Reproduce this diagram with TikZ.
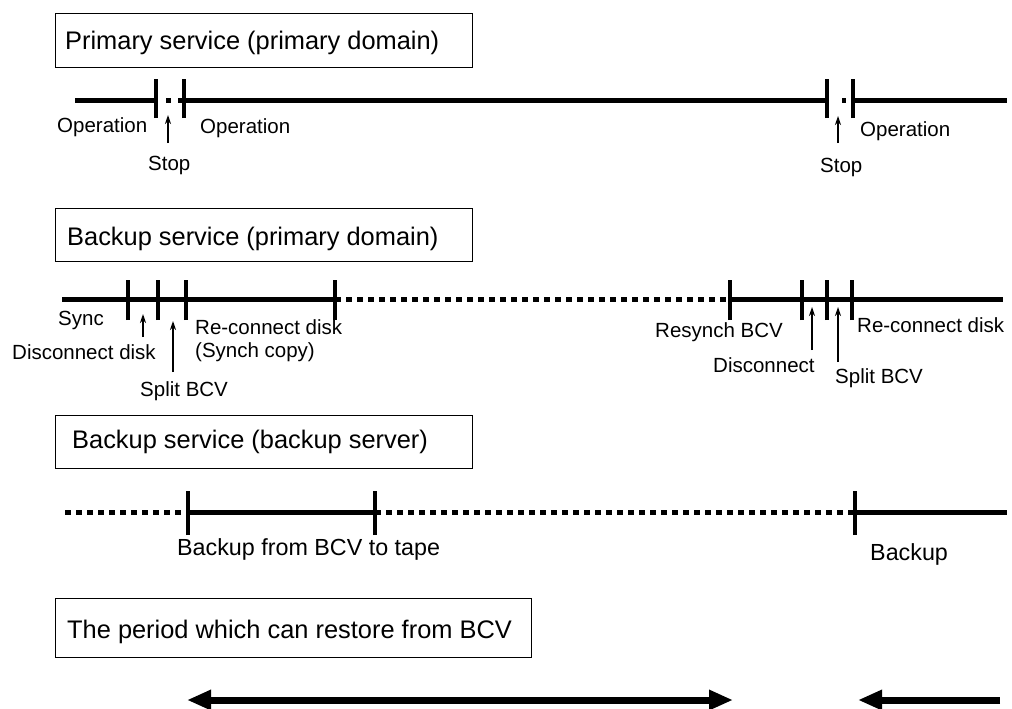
\documentclass[tikz,border=0pt]{standalone}
\usepackage{fontspec}
\setmainfont{Liberation Sans}
\usetikzlibrary{arrows.meta}
\begin{document}
\begin{tikzpicture}[x=1pt,y=-1pt,
  boxst/.style={draw, line width=1.4pt, inner sep=0pt, anchor=north west},
  boxlbl/.style={anchor=base west, inner sep=0pt, font=\fontsize{25.4}{30}\selectfont},
  lbl/.style={anchor=base west, inner sep=0pt, font=\fontsize{20.5}{24}\selectfont},
  lblb/.style={anchor=base west, inner sep=0pt, font=\fontsize{23.3}{28}\selectfont},
  tline/.style={line width=5pt},
  dline/.style={line width=5pt, dash pattern=on 6pt off 5pt},
  tick/.style={line width=4.5pt},
  uparrow/.style={line width=1.5pt, -{Stealth[length=9pt,width=6pt]}},
  bigarrow/.style={line width=7pt, -{Triangle[length=24pt,width=19pt]}},
  bigarrows/.style={line width=7pt, {Triangle[length=24pt,width=19pt]}-{Triangle[length=24pt,width=19pt]}}
]
\useasboundingbox (0,0) rectangle (1012,709);

% ---------- Box 1: Primary service ----------
\node[boxst, minimum width=417pt, minimum height=54pt] (box1) at (55,13) {};
\node[boxlbl] (box1t) at (65,50) {Primary service (primary domain)};

\coordinate (a0) at (75,100);
\coordinate (a1) at (156,100);
\coordinate (a2) at (184,100);
\coordinate (a3) at (827,100);
\coordinate (a4) at (853,100);
\coordinate (a5) at (1007,100);
\draw[tline] (a0) -- (a1);
\draw[tline] (a2) -- (a3);
\draw[tline] (a4) -- (a5);
\draw[line width=5pt] (166,100) -- (171,100);
\draw[line width=5pt] (178,100) -- (184,100);
\draw[line width=5pt] (842,100) -- (846,100);
\foreach \c in {a1,a2,a3,a4} \draw[tick] ([yshift=-18pt]\c) -- ([yshift=21pt]\c);

\node[lbl] (op1) at (57,132) {Operation};
\node[lbl] (op2) at (200,133) {Operation};
\node[lbl] (stop1) at (148,170) {Stop};
\node[lbl] (stop2) at (820,172) {Stop};
\node[lbl] (op3) at (860,136) {Operation};
\coordinate (s1b) at (168,143);
\coordinate (s1t) at (168,115);
\coordinate (s2b) at (838,143);
\coordinate (s2t) at (838,116);
\draw[uparrow] (s1b) -- (s1t);
\draw[uparrow] (s2b) -- (s2t);

% ---------- Box 2: Backup service (primary domain) ----------
\node[boxst, minimum width=417pt, minimum height=53pt] (box2) at (55,208) {};
\node[boxlbl] (box2t) at (67,245) {Backup service (primary domain)};

\coordinate (b0) at (62,299);
\coordinate (b1) at (128,299);
\coordinate (b2) at (158,299);
\coordinate (b3) at (186,299);
\coordinate (b4) at (335,299);
\coordinate (b5) at (730,299);
\coordinate (b6) at (802,299);
\coordinate (b7) at (827,299);
\coordinate (b8) at (852,299);
\coordinate (b9) at (1003,299);
\draw[tline] (b0) -- (b4);
\draw[dline] (b4) -- (b5);
\draw[tline] (b5) -- (b9);
\foreach \c in {b1,b2,b3,b4,b5,b6,b7,b8} \draw[tick] ([yshift=-21pt]\c) -- ([yshift=19pt]\c);

\node[lbl] (sync) at (58,325) {Sync};
\node[lbl] (disc) at (12,359) {Disconnect disk};
\node[lbl] (rec1) at (195,334) {Re-connect disk};
\node[lbl] (rec1b) at (195,357) {(Synch copy)};
\node[lbl] (split1) at (140,396) {Split BCV};
\node[lbl] (resync) at (655,337) {Resynch BCV};
\node[lbl] (disc2) at (713,372) {Disconnect};
\node[lbl] (split2) at (835,383) {Split BCV};
\node[lbl] (rec2) at (857,332) {Re-connect disk};
\coordinate (d1b) at (143,337);
\coordinate (d1t) at (143,314);
\coordinate (p1b) at (173,372);
\coordinate (p1t) at (173,321);
\coordinate (d2b) at (812,350);
\coordinate (d2t) at (812,307);
\coordinate (p2b) at (838,362);
\coordinate (p2t) at (838,307);
\draw[uparrow] (d1b) -- (d1t);
\draw[uparrow] (p1b) -- (p1t);
\draw[uparrow] (d2b) -- (d2t);
\draw[uparrow] (p2b) -- (p2t);

% ---------- Box 3: Backup service (backup server) ----------
\node[boxst, minimum width=417pt, minimum height=53pt] (box3) at (55,415) {};
\node[boxlbl] (box3t) at (72,448) {Backup service (backup server)};

\coordinate (c0) at (65,512);
\coordinate (c1) at (188,512);
\coordinate (c2) at (375,512);
\coordinate (c3) at (855,512);
\coordinate (c4) at (1007,512);
\draw[dline] (c0) -- (c1);
\draw[tline] (c1) -- (c2);
\draw[dline] (c2) -- (c3);
\draw[tline] (c3) -- (c4);
\foreach \c in {c1,c2,c3} \draw[tick] ([yshift=-23pt]\c) -- ([yshift=21pt]\c);

\node[lblb] (bt) at (177,555) {Backup from BCV to tape};
\node[lblb] (bk) at (870,560) {Backup};

% ---------- Box 4: The period ----------
\node[boxst, minimum width=476pt, minimum height=59pt] (box4) at (55,598) {};
\node[boxlbl] (box4t) at (67,638) {The period which can restore from BCV};

\coordinate (e0) at (187,700);
\coordinate (e1) at (733,700);
\coordinate (e2) at (1000,700);
\coordinate (e3) at (858,700);
\draw[bigarrows] (e0) -- (e1);
\draw[bigarrow] (e2) -- (e3);
\end{tikzpicture}
\end{document}
